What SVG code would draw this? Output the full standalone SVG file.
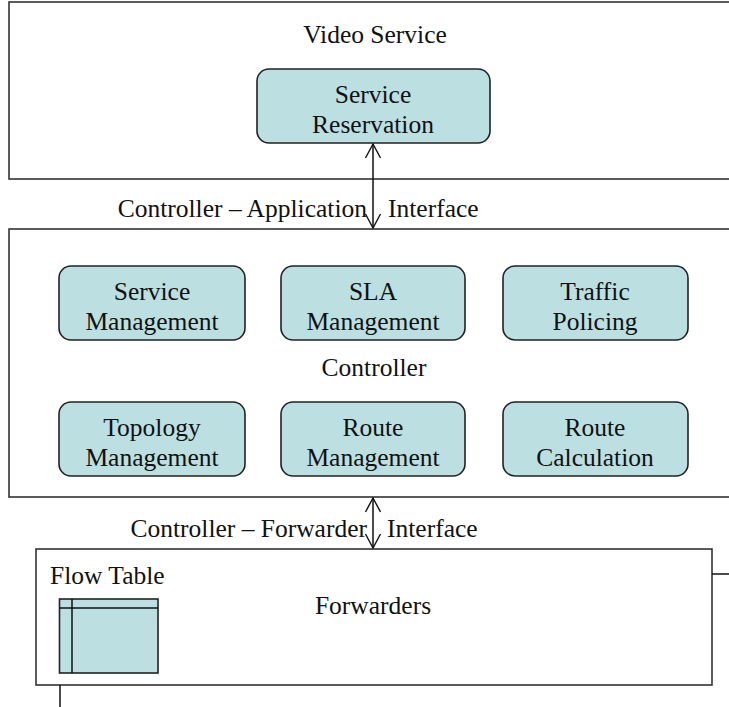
<svg xmlns="http://www.w3.org/2000/svg" width="729" height="707" viewBox="0 0 729 707">
<style>
text{font-family:"Liberation Serif","Times New Roman",serif;font-size:25.5px;fill:#111;text-anchor:middle}
.frame{fill:#fff;stroke:#333;stroke-width:1.6}
.mod{fill:#bce0e2;stroke:#222;stroke-width:1.6}
.ln{fill:none;stroke:#111;stroke-width:1.5}
</style>
<defs>
<marker id="ah" viewBox="0 0 20 20" refX="19" refY="10" markerWidth="20" markerHeight="20" markerUnits="userSpaceOnUse" orient="auto-start-reverse">
<path d="M5,2.5 L19,10 L5,17.5" fill="none" stroke="#111" stroke-width="1.4"/>
</marker>
</defs>
<rect width="729" height="707" fill="#fff"/>
<g id="video-service">
<rect class="frame" x="9" y="2" width="730" height="177"/>
<text x="375" y="43">Video Service</text>
</g>
<g id="service-reservation">
<rect class="mod" x="257" y="69" width="233" height="74" rx="12"/>
<text x="373" y="103">Service</text>
<text x="373" y="133">Reservation</text>
</g>
<g id="controller">
<rect class="frame" x="9" y="229" width="730" height="268"/>
<text x="374" y="376">Controller</text>
</g>
<g id="service-management">
<rect class="mod" x="59" y="266" width="186" height="74" rx="12"/>
<text x="152" y="300">Service</text>
<text x="152" y="330">Management</text>
</g>
<g id="sla-management">
<rect class="mod" x="281" y="266" width="184" height="74" rx="12"/>
<text x="373" y="300">SLA</text>
<text x="373" y="330">Management</text>
</g>
<g id="traffic-policing">
<rect class="mod" x="503" y="266" width="185" height="74" rx="12"/>
<text x="595" y="300">Traffic</text>
<text x="595" y="330">Policing</text>
</g>
<g id="topology-management">
<rect class="mod" x="59" y="402" width="186" height="74" rx="12"/>
<text x="152" y="436">Topology</text>
<text x="152" y="466">Management</text>
</g>
<g id="route-management">
<rect class="mod" x="281" y="402" width="184" height="74" rx="12"/>
<text x="373" y="436">Route</text>
<text x="373" y="466">Management</text>
</g>
<g id="route-calculation">
<rect class="mod" x="503" y="402" width="185" height="74" rx="12"/>
<text x="595" y="436">Route</text>
<text x="595" y="466">Calculation</text>
</g>
<g id="forwarders">
<rect class="frame" x="36" y="549" width="676" height="136"/>
<text x="373" y="614">Forwarders</text>
<text x="50" y="584" style="text-anchor:start">Flow Table</text>
<rect class="mod" x="59.5" y="599" width="98.5" height="74" rx="0"/>
<line class="ln" x1="59.5" y1="608" x2="158" y2="608"/>
<line class="ln" x1="72" y1="599" x2="72" y2="673"/>
</g>
<g id="connectors">
<line class="ln" x1="373" y1="144" x2="373" y2="228" marker-start="url(#ah)" marker-end="url(#ah)"/>
<line class="ln" x1="373" y1="498" x2="373" y2="548" marker-start="url(#ah)" marker-end="url(#ah)"/>
<line class="ln" x1="712" y1="574" x2="729" y2="574"/>
<line class="ln" x1="60" y1="685" x2="60" y2="707"/>
</g>
<g id="labels">
<text x="367" y="217" style="text-anchor:end">Controller – Application</text>
<text x="388" y="217" style="text-anchor:start">Interface</text>
<text x="367" y="537" style="text-anchor:end">Controller – Forwarder</text>
<text x="387" y="537" style="text-anchor:start">Interface</text>
</g>
</svg>
